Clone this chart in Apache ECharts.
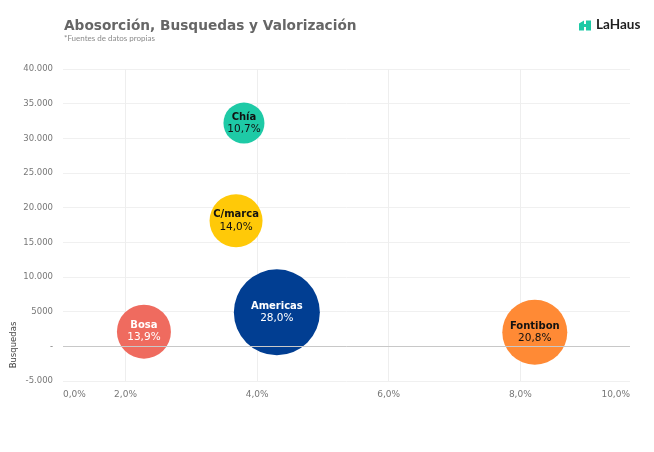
<!DOCTYPE html>
<html><head><meta charset="utf-8">
<script src="https://cdn.jsdelivr.net/npm/echarts@6/dist/echarts.min.js"></script>
<style>html,body{margin:0;padding:0;background:#fff}#c{width:654px;height:452px}</style>
</head><body><div id="c"></div>
<script>
// ---- data ----
const zonas = ["Chía", "C/marca", "Americas", "Bosa", "Fontibon"];
const valorizacion = [3.80, 3.68, 4.30, 2.28, 8.22];      // x (%)
const busquedas = [32200, 18100, 4900, 2120, 2020];       // y
const absorcion = ["10,7%", "14,0%", "28,0%", "13,9%", "20,8%"];
const tamanoBurbuja = [41, 53, 86, 54, 65];               // relative bubble size
const xTickLabels = ["0,0%", "2,0%", "4,0%", "6,0%", "8,0%", "10,0%"];
const yTickLabels = ["-5.000", "-", "5000", "10.000", "15.000", "20.000", "25.000", "30.000", "35.000", "40.000"];

// ---- styles ----
const bubbleColors = ["#1ECAA6", "#FFC908", "#013E92", "#EF6B5F", "#FF8A35"];
const labelColors = ["#111111", "#111111", "#FFFFFF", "#FFFFFF", "#111111"];

const xMin = 1.05, xMax = 9.667;
const yMin = -5000, yMax = 40000, yInterval = 5000;
const xLabelValues = [xMin, 2, 4, 6, 8, xMax];

const chart = echarts.init(document.getElementById('c'), null, {renderer: 'canvas'});
const data = zonas.map((z, i) => ({
  name: z,
  value: [valorizacion[i], busquedas[i], tamanoBurbuja[i]],
  itemStyle: {color: bubbleColors[i], opacity: 1},
  label: {
    formatter: '{n|' + z + '}\n{p|' + absorcion[i] + '}',
    rich: {
      n: {fontFamily: 'DejaVu Sans', fontWeight: 'bold', fontSize: 10, color: labelColors[i], lineHeight: 12},
      p: {fontFamily: 'DejaVu Sans', fontSize: 10.5, color: labelColors[i], lineHeight: 12}
    }
  }
}));

chart.setOption({
  backgroundColor: '#ffffff',
  animation: false,
  grid: {left: 63, right: 24, top: 69, bottom: 71, containLabel: false},
  xAxis: {
    type: 'value', min: xMin, max: xMax, splitNumber: 4,
    axisLine: {show: false}, axisTick: {show: false},
    splitLine: {show: true, showMinLine: false, showMaxLine: false, lineStyle: {color: '#eeeeee', width: 1}},
    axisLabel: {
      customValues: xLabelValues,
      margin: 9, color: '#777777', fontFamily: 'DejaVu Sans', fontSize: 9,
      alignMinLabel: 'left', alignMaxLabel: 'right',
      formatter: function (v) {
        let best = 0, d = 1e9;
        xLabelValues.forEach((t, i) => { if (Math.abs(t - v) < d) { d = Math.abs(t - v); best = i; } });
        return xTickLabels[best];
      }
    }
  },
  yAxis: {
    type: 'value', min: yMin, max: yMax, interval: yInterval,
    axisLine: {show: false}, axisTick: {show: false},
    splitLine: {show: true, lineStyle: {color: '#f0f0f0', width: 1}},
    axisLabel: {
      margin: 10, color: '#777777', fontFamily: 'DejaVu Sans', fontSize: 8.5,
      formatter: function (v) { return yTickLabels[Math.round((v - yMin) / yInterval)]; }
    }
  },
  series: [{
    type: 'scatter',
    data: data,
    symbol: 'circle',
    symbolSize: function (val) { return val[2]; },
    label: {show: true, position: 'inside', align: 'center', verticalAlign: 'middle'},
    emphasis: {disabled: true},
    markLine: {
      silent: true, symbol: ['none', 'none'], animation: false,
      label: {show: false},
      lineStyle: {color: '#c8c8c8', type: 'solid', width: 1},
      data: [{yAxis: 0}]
    },
    z: 3
  }],
  graphic: [
    {type: 'text', left: 64, top: 19, style: {text: 'Abosorción, Busquedas y Valorización', fontFamily: 'DejaVu Sans', fontWeight: 'bold', fontSize: 13.7, fill: '#666666'}},
    {type: 'text', left: 64, top: 34, style: {text: '*Fuentes de datos propias', fontFamily: 'Lato', fontSize: 8, fill: '#8a8a8a'}},
    {type: 'polygon', shape: {points: [[579,23.5],[584,20.5],[584,24],[586,24],[586,20.5],[591,20.5],[591,30.5],[586,30.5],[586,27],[584,27],[584,30.5],[579,30.5]]}, style: {fill: '#1ECAA6'}},
    {type: 'text', left: 596, top: 18, style: {text: 'LaHaus', fontFamily: 'Lato', fontWeight: 'bold', fontSize: 13.5, fill: '#1f1f1f'}},
    {type: 'text', x: 14, y: 345, rotation: Math.PI / 2, style: {text: 'Busquedas', fontFamily: 'DejaVu Sans', fontSize: 8.5, fill: '#444444', align: 'center', verticalAlign: 'middle'}}
  ]
});
</script></body></html>
